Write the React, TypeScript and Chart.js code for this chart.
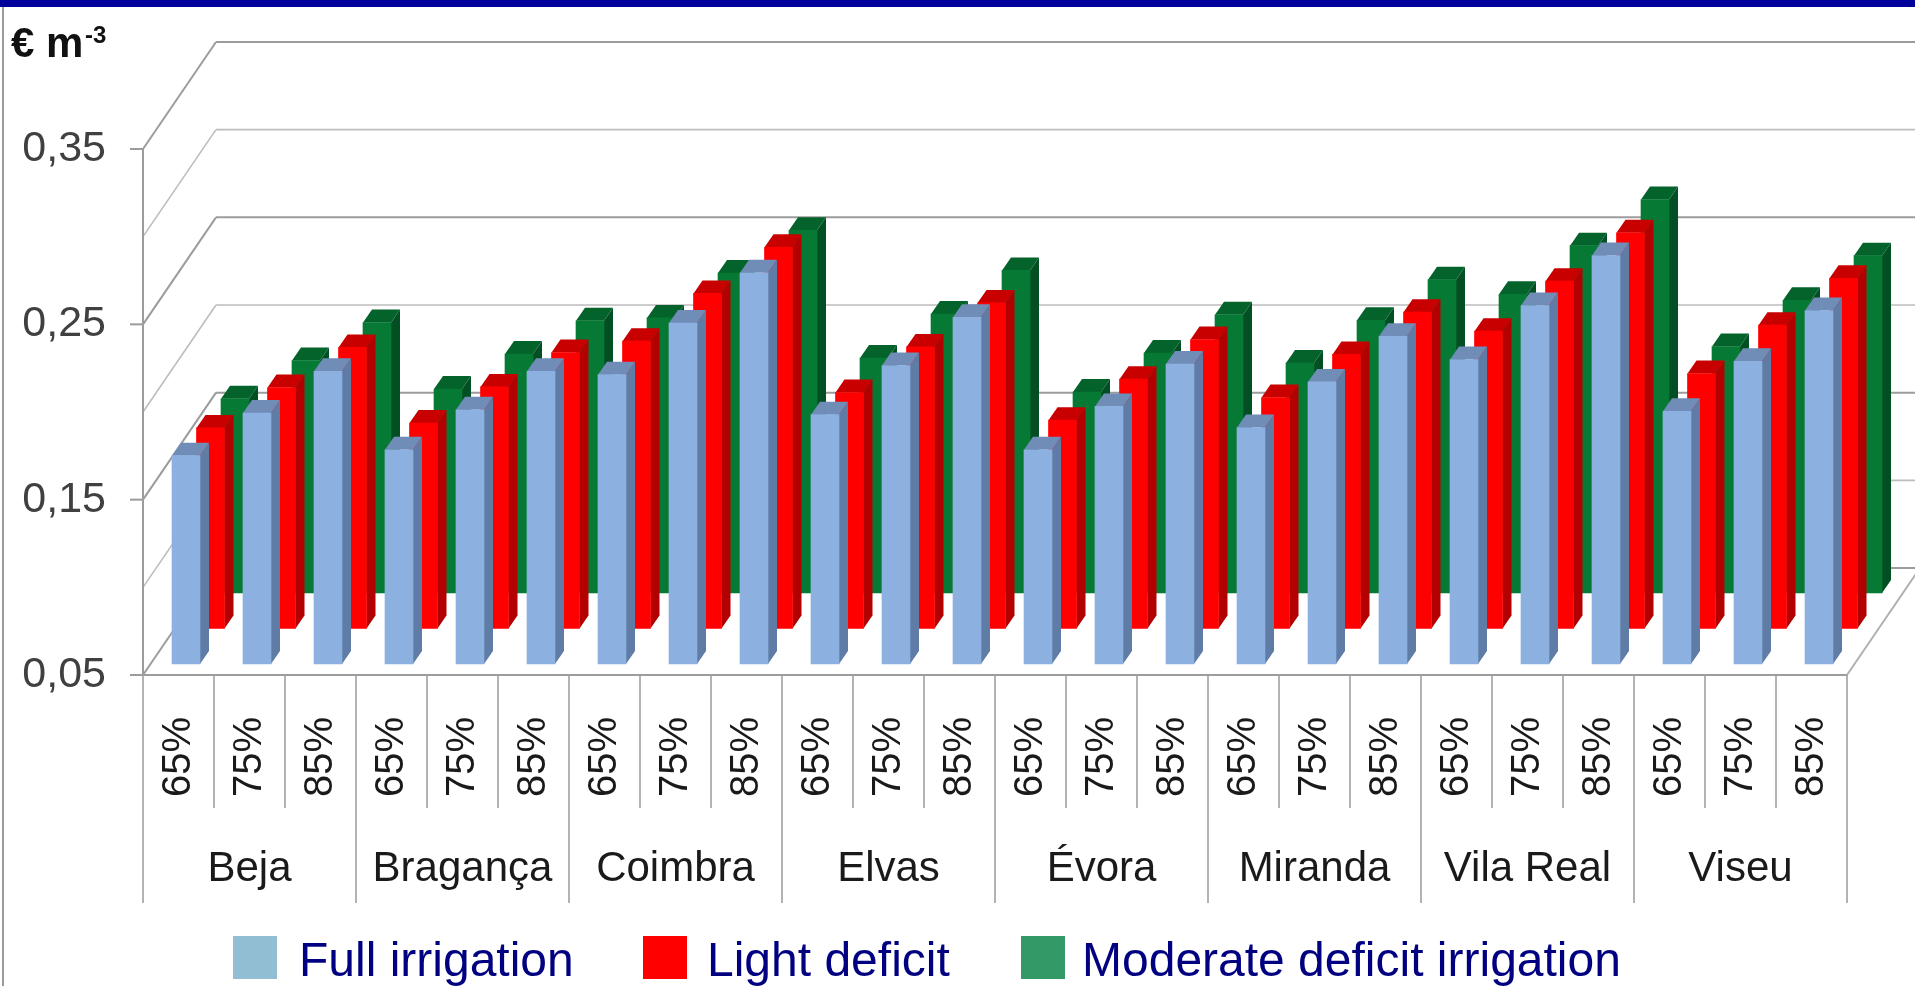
import React, { useEffect, useRef } from "react";
import { Chart, registerables } from "chart.js";

Chart.register(...registerables);

const cities = ["Beja", "Bragança", "Coimbra", "Elvas", "Évora", "Miranda", "Vila Real", "Viseu"];
const levels = ["65%", "75%", "85%"];
const tickValues = [0.05, 0.15, 0.25, 0.35];

const fullIrrigation = [
  0.1688, 0.1931, 0.2169, 0.1722, 0.195, 0.2169, 0.215, 0.2445, 0.2731, 0.1922, 0.2202, 0.2477,
  0.1722, 0.1969, 0.2211, 0.1849, 0.2109, 0.2369, 0.2236, 0.2544, 0.283, 0.1941, 0.2226, 0.2516,
];
const lightDeficit = [
  0.1644, 0.1874, 0.2103, 0.1672, 0.1878, 0.2074, 0.2139, 0.2411, 0.2674, 0.1846, 0.2106, 0.2357,
  0.1688, 0.1922, 0.2148, 0.1817, 0.2063, 0.2304, 0.2196, 0.2481, 0.2757, 0.1954, 0.223, 0.2497,
];
const moderateDeficit = [
  0.1608, 0.1826, 0.2043, 0.1663, 0.1863, 0.2053, 0.2069, 0.2325, 0.2569, 0.184, 0.2091, 0.234,
  0.1646, 0.1869, 0.2087, 0.1812, 0.2055, 0.2287, 0.2204, 0.2481, 0.2744, 0.1906, 0.2169, 0.2424,
];

const labels = cities.flatMap(() => levels);

const FONT = '"Liberation Sans", Arial, sans-serif';
const WALL_DX = 73;
const WALL_DY = 107;
const BAR_DX = 9;
const BAR_DY = 13;

const seriesStyle = [
  { dx: 7.5, dy: 11, front: "#8CB1E1", side: "#5E7CA6", top: "#6F8DB7", legend: "#92BED4" },
  { dx: 32, dy: 46.5, front: "#FF0000", side: "#B30000", top: "#C80000", legend: "#FF0000" },
  { dx: 56.5, dy: 82, front: "#067A35", side: "#034F24", top: "#04632B", legend: "#339966" },
];

const legendLayout = [
  { box: 233, text: 299 },
  { box: 643, text: 707 },
  { box: 1021, text: 1082 },
];

function line(ctx: CanvasRenderingContext2D, x1: number, y1: number, x2: number, y2: number, color: string, w: number) {
  ctx.beginPath();
  ctx.strokeStyle = color;
  ctx.lineWidth = w;
  ctx.moveTo(x1, y1);
  ctx.lineTo(x2, y2);
  ctx.stroke();
}

function poly(ctx: CanvasRenderingContext2D, pts: number[][], color: string) {
  ctx.beginPath();
  ctx.fillStyle = color;
  pts.forEach(([x, y], i) => (i ? ctx.lineTo(x, y) : ctx.moveTo(x, y)));
  ctx.closePath();
  ctx.fill();
}

const isMajor = (v: number) => tickValues.some((t) => Math.abs(t - v) < 1e-6);

const chrome3d = {
  id: "chrome3d",
  beforeDatasetsDraw(chart: any) {
    const { ctx, scales, chartArea } = chart;
    const y = scales.y;
    const { left, right, top, bottom } = chartArea;
    ctx.save();
    y.ticks.forEach((t: any) => {
      const py = y.getPixelForValue(t.value);
      const major = isMajor(t.value);
      const col = major ? "#9C9C9C" : "#BDBDBD";
      const w = major ? 2 : 1.6;
      line(ctx, left, py, left + WALL_DX, py - WALL_DY, col, w);
      line(ctx, left + WALL_DX, py - WALL_DY, right + WALL_DX, py - WALL_DY, col, w);
      if (major) line(ctx, left - 13, py, left, py, "#9C9C9C", 2);
    });
    line(ctx, left, top, left, bottom, "#9C9C9C", 2);
    line(ctx, right, bottom, right + WALL_DX, bottom - WALL_DY, "#B0B0B0", 2);
    line(ctx, left, bottom, right, bottom, "#9C9C9C", 2);
    ctx.restore();
  },
  beforeDatasetDraw(chart: any, args: any) {
    const { ctx } = chart;
    const s = seriesStyle[args.index];
    ctx.save();
    ctx.translate(s.dx, -s.dy);
    args.meta.data.forEach((el: any) => {
      const { x, y, base, width } = el.getProps(["x", "y", "base", "width"], true);
      const l = x - width / 2;
      const r = x + width / 2;
      poly(ctx, [[r, y], [r + BAR_DX, y - BAR_DY], [r + BAR_DX, base - BAR_DY], [r, base]], s.side);
      poly(ctx, [[l, y], [l + BAR_DX, y - BAR_DY], [r + BAR_DX, y - BAR_DY], [r, y]], s.top);
    });
  },
  afterDatasetDraw(chart: any) {
    chart.ctx.restore();
  },
  afterDraw(chart: any) {
    const { ctx, scales, chartArea, data } = chart;
    const x = scales.x;
    const bottom = chartArea.bottom;
    ctx.save();
    // page frame
    ctx.fillStyle = "#00009A";
    ctx.fillRect(0, 0, chart.width, 7);
    line(ctx, 3, 7, 3, chart.height, "#9A9A9A", 2);
    // category separators, two levels
    labels.forEach((_: string, i: number) => {
      const px = x.getPixelForValue(i - 0.5);
      const group = i % levels.length === 0;
      line(ctx, px, bottom, px, group ? 903 : 808, "#A0A0A0", 1.6);
    });
    line(ctx, chartArea.right, bottom, chartArea.right, 903, "#A0A0A0", 1.6);
    // city labels
    ctx.fillStyle = "#1A1A1A";
    ctx.font = `42px ${FONT}`;
    ctx.textAlign = "center";
    ctx.textBaseline = "alphabetic";
    cities.forEach((c, i) => {
      const mid = x.getPixelForValue(i * levels.length + (levels.length - 1) / 2);
      ctx.fillText(c, mid, 881);
    });
    // legend
    ctx.textAlign = "left";
    ctx.font = `48px ${FONT}`;
    data.datasets.forEach((d: any, i: number) => {
      const pos = legendLayout[i];
      ctx.fillStyle = seriesStyle[i].legend;
      ctx.fillRect(pos.box, 936, 44, 43);
      ctx.fillStyle = "#000080";
      ctx.fillText(d.label, pos.text, 976);
    });
    // unit
    ctx.fillStyle = "#111111";
    ctx.font = `bold 42px ${FONT}`;
    ctx.fillText("€ m", 11, 57);
    ctx.font = `bold 24px ${FONT}`;
    ctx.fillText("-3", 85, 43);
    ctx.restore();
  },
};

export default function App() {
  const ref = useRef<HTMLCanvasElement>(null);
  useEffect(() => {
    const chart = new Chart(ref.current as HTMLCanvasElement, {
      type: "bar",
      plugins: [chrome3d],
      data: {
        labels,
        datasets: [
          { label: "Full irrigation", data: fullIrrigation, backgroundColor: seriesStyle[0].front, clip: false },
          { label: "Light deficit", data: lightDeficit, backgroundColor: seriesStyle[1].front, clip: false },
          { label: "Moderate deficit irrigation", data: moderateDeficit, backgroundColor: seriesStyle[2].front, clip: false },
        ] as any,
      },
      options: {
        animation: false,
        responsive: false,
        events: [],
        layout: { padding: { left: 0, right: 68, top: 149, bottom: 181 } },
        datasets: { bar: { grouped: false, barThickness: 28, borderWidth: 0, base: 0.05 } },
        plugins: { legend: { display: false }, tooltip: { enabled: false } },
        scales: {
          x: {
            afterFit: (s: any) => {
              s.height = 130;
            },
            grid: { display: false, drawTicks: false },
            border: { display: false },
            ticks: {
              autoSkip: false,
              minRotation: 90,
              maxRotation: 90,
              padding: 42,
              color: "#1A1A1A",
              font: { family: FONT, size: 40 },
            },
          },
          y: {
            min: 0.05,
            max: 0.35,
            afterFit: (s: any) => {
              s.width = 143;
            },
            grid: { display: false, drawTicks: false },
            border: { display: false },
            ticks: {
              stepSize: 0.05,
              autoSkip: false,
              padding: 37,
              color: "#404040",
              font: { family: FONT, size: 43 },
              callback: (v: any) => (isMajor(Number(v)) ? Number(v).toFixed(2).replace(".", ",") : ""),
            },
          },
        },
      } as any,
    });
    return () => chart.destroy();
  }, []);
  return (
    <div style={{ position: "absolute", left: 0, top: 0, width: 1915, height: 986, background: "#fff", overflow: "hidden" }}>
      <canvas ref={ref} width={1915} height={986} style={{ display: "block" }} />
    </div>
  );
}
